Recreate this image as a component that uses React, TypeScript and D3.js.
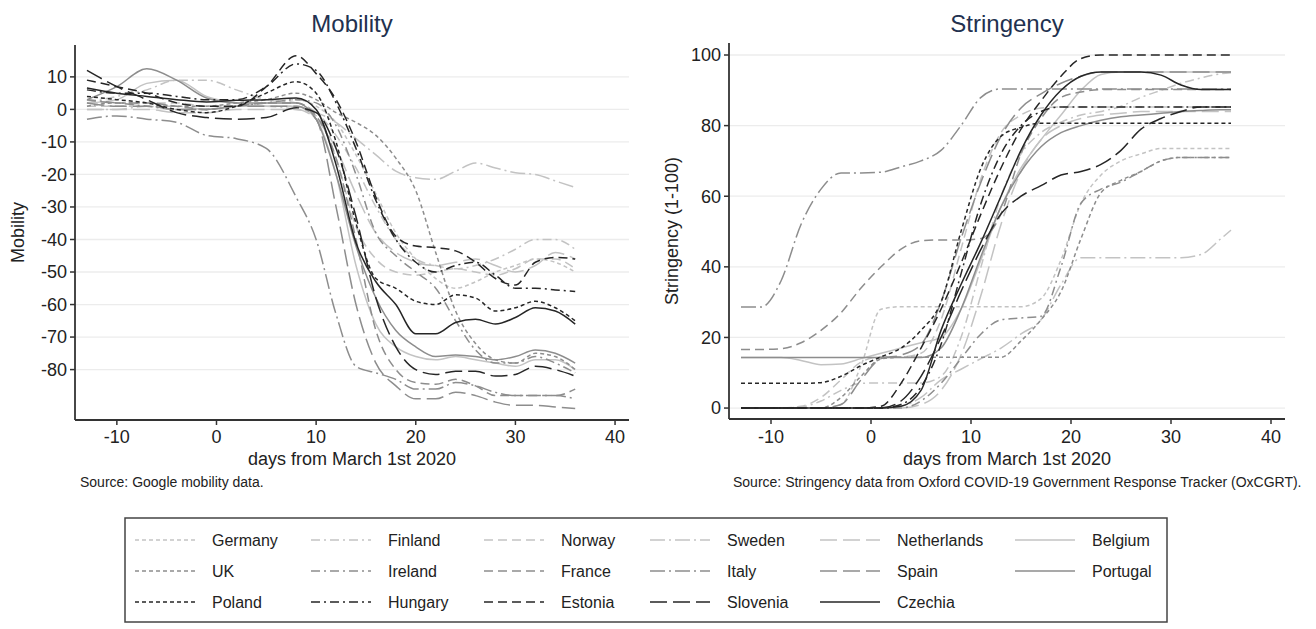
import React from "react";
import * as d3 from "d3";

// ---------------- DATA ----------------
const countries = [
  "Germany", "Finland", "Norway", "Sweden", "Netherlands", "Belgium",
  "UK", "Ireland", "France", "Italy", "Spain", "Portugal",
  "Poland", "Hungary", "Estonia", "Slovenia", "Czechia",
];

const mobDays = [-13, -10, -7, -4, -1, 2, 5, 8, 10, 12, 14, 16, 18, 20, 22, 24, 26, 28, 30, 32, 34, 36];
const strDays = [-13, -11, -9, -7, -5, -3, -1, 1, 3, 5, 7, 9, 11, 13, 15, 17, 19, 21, 23, 25, 27, 29, 31, 33, 35, 36];

const xTicks = [-10, 0, 10, 20, 30, 40];
const mobTicks = [10, 0, -10, -20, -30, -40, -50, -60, -70, -80];
const strTicks = [0, 20, 40, 60, 80, 100];

// Mobility (index vs baseline)
const mobGermany = [2, 1, 1, 0, 0, 1, 2, 3, 1, -4, -14, -26, -38, -46, -52, -55, -53, -50, -48, -46, -47, -50];
const mobFinland = [2, 4, 6, 9, 9, 6, 3, 2, -1, -8, -18, -30, -40, -46, -48, -49, -48, -46, -43, -40, -40, -43];
const mobNorway = [1, 1, 2, 2, 1, 1, 1, 1, -2, -15, -36, -46, -50, -51, -50, -49, -50, -51, -49, -46, -46, -49];
const mobSweden = [0, 0, 1, 1, 0, 1, 1, 0, -1, -4, -9, -14, -19, -21, -21.5, -19, -16.5, -18, -19.5, -20, -22, -24];
const mobNetherlands = [0, 0, 0, -1, -1, 0, 0, 0, -3, -12, -26, -38, -44, -47, -48, -47, -46, -48, -50, -48, -44, -46];
const mobBelgium = [2, 3, 8, 9, 4, 2, 1, 1, -3, -20, -48, -66, -73, -76, -77, -76, -77, -78, -79, -77, -77, -80];
const mobUK = [1, 2, 2, 1, 1, 2, 3, 5, 3, -1, -4, -8, -15, -25, -44, -62, -72, -77, -78, -75, -76, -80];
const mobIreland = [3, 2, 1, 0, 0, 1, 2, 3, 2, -5, -20, -38, -45, -50, -55, -65, -74, -78, -78, -76, -78, -81];
const mobFrance = [3, 2, 2, 1, 0, 1, 2, 2, -2, -15, -40, -68, -80, -84, -84.5, -83, -85, -88, -88, -88, -88, -86];
const mobItaly = [-3, -2, -3, -4, -8, -9, -12, -27, -40, -63, -79, -81, -83, -86, -86, -84, -85, -87, -88, -88, -88, -89];
const mobSpain = [2, 1, 1, 0, 0, 1, 1, 1, -3, -30, -60, -78, -85, -89, -89, -87, -88, -90, -91, -91, -91.5, -92];
const mobPortugal = [3, 7, 12.5, 9, 3.5, 2, 2, 2, -3, -20, -42, -58, -68, -73, -76, -75.5, -76, -77, -76, -74, -75, -78];
const mobPoland = [4, 3, 2, 0, -1, 1, 5, 8.5, 5, -10, -35, -52, -55, -59, -60, -57, -58, -62, -61, -59, -61, -65];
const mobHungary = [6, 5, 5, 4, 3, 3, 7, 14, 12, 2, -12, -28, -40, -47, -50, -48, -47, -51, -55, -55, -55.5, -56];
const mobEstonia = [9, 7, 5, 2, 1, 1, 7, 16.5, 11, 3, -10, -27, -39, -42, -42.5, -43.5, -47, -52, -54, -47, -45.5, -46];
const mobSlovenia = [12, 7, 3, -1, -2.5, -3, -2.5, 0.5, -1, -12, -33, -58, -73, -80, -81.5, -80.5, -80.5, -82, -81.5, -79, -80, -82];
const mobCzechia = [6.6, 5, 4, 3, 2.3, 2.8, 3, 3.5, 0, -17, -41, -53, -60, -69, -69, -65.5, -64.5, -66, -64, -61, -62, -66];

// Stringency index (0-100)
const strGermany = [0, 0, 0, 0, 0, 1, 12, 28, 28.7, 28.7, 28.7, 28.7, 28.7, 28.7, 28.7, 31, 42, 58, 66, 70, 72, 73.5, 73.5, 73.5, 73.5, 73.5];
const strFinland = [0, 0, 0, 0.3, 2, 5, 7, 7.1, 7.1, 7.1, 9, 20, 40, 60, 72, 78, 81, 83, 84, 85.5, 88, 90, 92, 93.5, 94.7, 95];
const strNorway = [0, 0, 0, 0.5, 3, 8, 13, 14.5, 14.5, 15.5, 25, 45, 65, 78, 83, 85, 85.3, 85.3, 85.3, 85.3, 85.3, 85.3, 85.3, 85.3, 85.3, 85.3];
const strSweden = [0, 0, 0, 0, 0, 0, 0, 0, 0.5, 3, 8, 11, 14, 17, 21, 25, 35, 42.6, 42.6, 42.6, 42.6, 42.6, 42.6, 43.5, 48, 50.4];
const strNetherlands = [0, 0, 0, 0, 0, 0, 0, 0, 0, 1, 5, 15, 32, 52, 67, 76, 80, 82, 83, 83.5, 84, 84, 84, 84, 84, 84];
const strBelgium = [14.3, 14.3, 14.3, 13.5, 12.3, 12.5, 14, 15.5, 17, 18.5, 20, 28, 42, 57, 68, 76, 83, 90, 94.5, 95.2, 95.2, 95.2, 95.2, 95.2, 95.2, 95.2];
const strUK = [0, 0, 0, 0, 0, 3, 9, 13.9, 14.4, 14.4, 14.4, 14.4, 14.4, 14.4, 19, 25, 33, 48, 61, 64.5, 67, 70, 71, 71, 71, 71];
const strIreland = [0, 0, 0, 0, 0, 0, 0, 0, 0, 2, 7, 14, 21, 25, 25.5, 26, 40, 58, 62, 64, 67, 70, 71, 71, 71, 71];
const strFrance = [16.6, 16.6, 16.8, 18.5, 22, 27, 34, 40, 45, 47.4, 47.6, 47.6, 48, 55, 72, 82, 88, 89.5, 90.2, 90.2, 90.2, 90.2, 90.2, 90.2, 90.2, 90.2];
const strItaly = [28.6, 28.6, 36, 52, 62, 66.6, 66.6, 66.8, 68.3, 70, 73, 80, 88, 90.4, 90.4, 90.4, 90.4, 90.4, 90.4, 90.4, 90.4, 90.4, 90.4, 90.4, 90.4, 90.4];
const strSpain = [0, 0, 0, 0, 0, 1, 8, 14, 15, 18, 30, 48, 64, 77, 85, 89, 92, 94, 95.2, 95.2, 95.2, 95.2, 95.2, 95.2, 95.2, 95.2];
const strPortugal = [14.3, 14.3, 14.3, 14.3, 14.3, 14.3, 14.3, 14.3, 14.3, 14.3, 17, 28, 43, 57, 67, 74, 78, 80, 81.5, 82.5, 83, 83.5, 84, 84.3, 84.5, 84.5];
const strPoland = [7, 7, 7, 7, 7.2, 9, 12, 14.5, 17, 22, 30, 50, 68, 77, 79.5, 80.7, 80.7, 80.7, 80.7, 80.7, 80.7, 80.7, 80.7, 80.7, 80.7, 80.7];
const strHungary = [0, 0, 0, 0, 0, 0, 0, 0, 1, 6, 18, 38, 58, 72, 80, 84, 85.3, 85.3, 85.3, 85.3, 85.3, 85.3, 85.3, 85.3, 85.3, 85.3];
const strEstonia = [0, 0, 0, 0, 0, 0, 0, 0.5, 7, 17, 28, 41, 55, 68, 79, 87, 94, 99, 100, 100, 100, 100, 100, 100, 100, 100];
const strSlovenia = [0, 0, 0, 0, 0, 0, 0, 0, 2, 9, 20, 33, 45, 55, 60, 63, 66, 67, 69, 73, 79, 82, 84, 85.3, 85.3, 85.3];
const strCzechia = [0, 0, 0, 0, 0, 0, 0, 0, 0.5, 5, 22, 35, 47, 60, 73, 83, 90, 94, 95.2, 95.2, 95.2, 94.3, 91.5, 90.2, 90.2, 90.2];

const mobilitySeries = [
  mobGermany, mobFinland, mobNorway, mobSweden, mobNetherlands, mobBelgium,
  mobUK, mobIreland, mobFrance, mobItaly, mobSpain, mobPortugal,
  mobPoland, mobHungary, mobEstonia, mobSlovenia, mobCzechia,
];
const stringencySeries = [
  strGermany, strFinland, strNorway, strSweden, strNetherlands, strBelgium,
  strUK, strIreland, strFrance, strItaly, strSpain, strPortugal,
  strPoland, strHungary, strEstonia, strSlovenia, strCzechia,
];

// ---------------- STYLE ----------------
const FONT = "'Liberation Sans', Arial, Helvetica, sans-serif";
const rowColors = ["#c3c3c3", "#8d8d8d", "#262626"];
const dashPatterns = ["4,3", "9,4,2,4", "9,5", "15,4,2,4", "17,6", "none"];
const patternOf = [0, 1, 2, 3, 4, 5, 0, 1, 2, 3, 4, 5, 0, 1, 2, 4, 5];
const styleOf = (i: number) => ({
  color: rowColors[Math.floor(i / 6)],
  dash: dashPatterns[patternOf[i]],
});

const X_DOMAIN: [number, number] = [-14.2, 41.4];

type PanelProps = {
  xRange: [number, number];
  yRange: [number, number];
  yDomain: [number, number];
  yTicks: number[];
  days: number[];
  series: number[][];
  title: string;
  yTitle: string;
  yTitleX: number;
  source: string;
  sourceX: number;
};

function Panel(p: PanelProps) {
  const x = d3.scaleLinear().domain(X_DOMAIN).range(p.xRange);
  const y = d3.scaleLinear().domain(p.yDomain).range(p.yRange);
  const line = d3
    .line<number>()
    .x((_, i) => x(p.days[i]))
    .y((v) => y(v))
    .curve(d3.curveMonotoneX);
  const [x0, x1] = p.xRange;
  const [yb, yt] = p.yRange;
  const cx = (x0 + x1) / 2;
  const cy = (yb + yt) / 2;
  return (
    <g>
      <text x={cx} y={32} textAnchor="middle" fontSize={24} fill="#22314f" fontFamily={FONT}>
        {p.title}
      </text>
      {p.yTicks.map((t) => (
        <line key={"g" + t} x1={x0} x2={x1} y1={y(t)} y2={y(t)} stroke="#ececec" strokeWidth={1.3} />
      ))}
      {p.series.map((vals, i) => {
        const s = styleOf(i);
        return (
          <path
            key={"s" + i}
            d={line(vals) || ""}
            fill="none"
            stroke={s.color}
            strokeWidth={1.5}
            strokeDasharray={s.dash}
          />
        );
      })}
      <line x1={x0} x2={x0} y1={yt} y2={yb} stroke="#333" strokeWidth={1.8} />
      <line x1={x0} x2={x1} y1={yb} y2={yb} stroke="#333" strokeWidth={1.8} />
      {p.yTicks.map((t) => (
        <g key={"yt" + t}>
          <line x1={x0 - 5} x2={x0} y1={y(t)} y2={y(t)} stroke="#333" strokeWidth={1.5} />
          <text x={x0 - 8} y={y(t)} dy="0.35em" textAnchor="end" fontSize={18} fill="#222" fontFamily={FONT}>
            {t}
          </text>
        </g>
      ))}
      {xTicks.map((t) => (
        <g key={"xt" + t}>
          <line x1={x(t)} x2={x(t)} y1={yb} y2={yb + 5} stroke="#333" strokeWidth={1.5} />
          <text x={x(t)} y={443} textAnchor="middle" fontSize={18} fill="#222" fontFamily={FONT}>
            {t}
          </text>
        </g>
      ))}
      <text x={cx} y={465} textAnchor="middle" fontSize={18} fill="#222" fontFamily={FONT}>
        days from March 1st 2020
      </text>
      <text
        transform={`translate(${p.yTitleX},${cy}) rotate(-90)`}
        textAnchor="middle"
        fontSize={18}
        fill="#222"
        fontFamily={FONT}
      >
        {p.yTitle}
      </text>
      <text x={p.sourceX} y={487} fontSize={14} fill="#222" fontFamily={FONT}>
        {p.source}
      </text>
    </g>
  );
}

const legendTextX = [212, 388, 561, 727, 897, 1092];
const legendRowY = [540, 571, 602];

function Legend() {
  return (
    <g>
      <rect x={125} y={518} width={1042} height={104} fill="#fff" stroke="#444" strokeWidth={1.5} />
      {countries.map((c, i) => {
        const col = i % 6;
        const row = Math.floor(i / 6);
        const s = styleOf(i);
        const tx = legendTextX[col];
        const ty = legendRowY[row];
        return (
          <g key={c}>
            <line x1={tx - 77} x2={tx - 17} y1={ty} y2={ty} stroke={s.color} strokeWidth={1.5} strokeDasharray={s.dash} />
            <text x={tx} y={ty} dy="0.35em" fontSize={16} fill="#222" fontFamily={FONT}>
              {c}
            </text>
          </g>
        );
      })}
    </g>
  );
}

export default function App() {
  return (
    <div style={{ position: "absolute", left: 0, top: 0, background: "#fff" }}>
      <svg width={1316} height={629} viewBox="0 0 1316 629" style={{ display: "block" }}>
        <rect width={1316} height={629} fill="#fff" />
        <Panel
          xRange={[75, 629]}
          yRange={[420, 45]}
          yDomain={[-95.5, 19.8]}
          yTicks={mobTicks}
          days={mobDays}
          series={mobilitySeries}
          title="Mobility"
          yTitle="Mobility"
          yTitleX={24}
          source="Source: Google mobility data."
          sourceX={80}
        />
        <Panel
          xRange={[729, 1285]}
          yRange={[419, 43]}
          yDomain={[-3.1, 103.4]}
          yTicks={strTicks}
          days={strDays}
          series={stringencySeries}
          title="Stringency"
          yTitle="Stringency (1-100)"
          yTitleX={678}
          source="Source: Stringency data from Oxford COVID-19 Government Response Tracker (OxCGRT)."
          sourceX={733}
        />
        <Legend />
      </svg>
    </div>
  );
}
